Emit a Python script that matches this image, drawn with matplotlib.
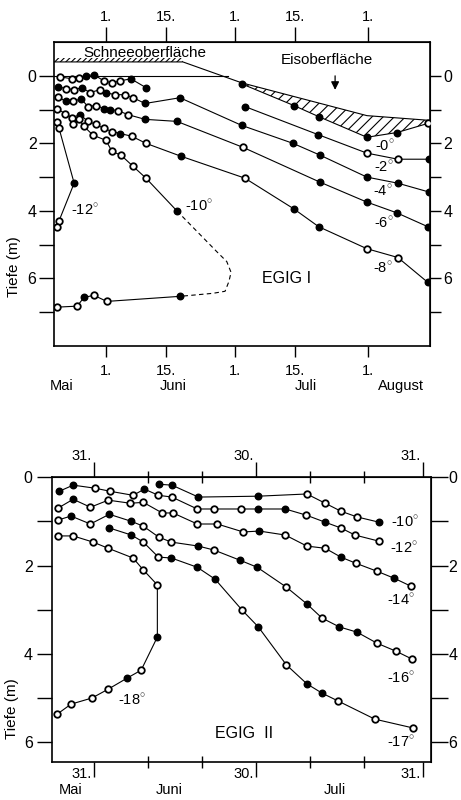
import numpy as np
import matplotlib
matplotlib.use('Agg')
import matplotlib.pyplot as plt
import matplotlib.transforms as mtransforms

plt.rcParams['font.family'] = ['Liberation Sans', 'DejaVu Sans']
plt.rcParams['mathtext.fontset'] = 'custom'
plt.rcParams['mathtext.rm'] = 'Liberation Sans'
plt.rcParams['hatch.linewidth'] = 0.8

# ================= EGIG I (x: days after 1 June, y: depth in m) =================
top_xticks = [0, 14, 30, 44, 61]
top_xticklabels = ["1.", "15.", "1.", "15.", "1."]
top_months = ["Mai", "Juni", "Juli", "August"]
top_month_pos = [-10.4, 15.6, 46.5, 68.6]

# near-surface row (no label)
r1_day = [-10.7, -7.9, -6.3, -4.7, -2.8, -0.5, 1.4, 3.3, 5.8, 9.3]
r1_dep = [0.03, 0.09, 0.06, 0.0, -0.03, 0.15, 0.21, 0.15, 0.09, 0.35]
r1_fill = "OOOFFOOOFF"

t0_day = [31.6, 43.7, 49.5, 60.7, 67.7, 74.9]
t0_dep = [0.24, 0.88, 1.21, 1.82, 1.68, 1.41]
t0_fill = "FFFFFO"

t2_day = [32.3, 49.3, 60.7, 67.9, 75.1]
t2_dep = [0.91, 1.74, 2.29, 2.47, 2.47]
t2_fill = "FFOOF"

t4_day = [-11.2, -9.3, -7.4, -5.6, -3.7, -1.4, 0.0, 2.1, 4.4, 6.3, 9.1, 17.2, 31.6, 43.5, 49.8, 60.7, 67.9, 75.1]
t4_dep = [0.32, 0.38, 0.41, 0.35, 0.50, 0.41, 0.50, 0.56, 0.56, 0.65, 0.82, 0.65, 1.47, 2.00, 2.35, 3.00, 3.18, 3.44]
t4_fill = "FOOFOOFOOOFFFFFFFF"

t6_day = [-11.2, -9.3, -7.7, -5.8, -4.2, -2.3, -0.5, 0.9, 2.8, 5.1, 9.1, 16.5, 31.9, 49.8, 60.7, 67.7, 74.9]
t6_dep = [0.62, 0.76, 0.76, 0.68, 0.91, 0.88, 0.97, 1.00, 1.03, 1.15, 1.29, 1.35, 2.12, 3.15, 3.74, 4.06, 4.47]
t6_fill = "OFOFOOFFOOFFOFFFF"

t8_day = [-11.4, -9.5, -7.9, -6.0, -4.2, -2.3, -0.5, 1.4, 3.3, 6.0, 9.3, 17.4, 32.3, 43.7, 49.5, 60.7, 67.9, 74.9]
t8_dep = [0.97, 1.12, 1.24, 1.15, 1.35, 1.44, 1.56, 1.65, 1.71, 1.79, 2.00, 2.38, 3.03, 3.94, 4.47, 5.12, 5.38, 6.12]
t8_fill = "OOOFOOOOFOOFOFFOOF"

t10u_day = [-7.7, -6.3, -5.1, -3.0, 0.0, 1.4, 3.5, 6.3, 9.3, 16.5]
t10u_dep = [1.44, 1.29, 1.50, 1.76, 1.91, 2.24, 2.35, 2.68, 3.03, 4.00]
t10u_fill = "OOOOOOOOOF"
t10d_day = [25.8, 28.1, 29.1, 28.6, 27.7, 24.9]
t10d_dep = [5.21, 5.50, 5.82, 6.09, 6.38, 6.44]
t10l_day = [17.2, 0.2, -2.8, -5.1, -6.7, -11.4]
t10l_dep = [6.53, 6.68, 6.50, 6.56, 6.82, 6.85]
t10l_fill = "FOOFOO"

t12_day = [-11.4, -10.9, -7.4, -10.9, -11.4]
t12_dep = [1.38, 1.56, 3.18, 4.29, 4.47]
t12_fill = "OOFOO"

snow_day = [-12.1, 17.9, 31.6, 60.7, 75.3]
snow_dep = [-0.41, -0.41, 0.21, 1.18, 1.32]
ice0_day = [-12.1, 28.5]
ice0_dep = [0.0, 0.0]

top_labels = ["-0", "-2", "-4", "-6", "-8", "-10", "-12"]
top_label_day = [64.9, 64.7, 64.4, 64.7, 64.4, 21.6, -4.9]
top_label_dep = [2.10, 2.70, 3.41, 4.38, 5.70, 3.88, 4.00]

# ================= EGIG II (x: days after 1 June, y: depth in m) =================
bot_major = [-1, 29, 60]
bot_major_labels = ["31.", "30.", "31."]
bot_minor = [9, 19, 39, 49]
bot_months = ["Mai", "Juni", "Juli"]
bot_month_pos = [-5.3, 12.9, 43.6]

b10_day = [11.0, 13.4, 18.3, 29.4, 38.4, 41.8, 44.7, 47.7, 51.8]
b10_dep = [0.16, 0.18, 0.45, 0.43, 0.38, 0.59, 0.77, 0.90, 1.02]
b10_fill = "FFFFOOOOF"

b12_day = [-7.5, -4.9, -0.8, 2.0, 6.2, 8.3, 10.9, 13.4, 18.1, 21.2, 26.2, 29.4, 34.4, 38.3, 41.8, 44.7, 47.3, 51.8]
b12_dep = [0.32, 0.18, 0.25, 0.32, 0.41, 0.27, 0.41, 0.45, 0.72, 0.72, 0.72, 0.72, 0.72, 0.86, 1.02, 1.15, 1.31, 1.45]
b12_fill = "FFOOOFOOOOOFFOFOOO"

b14_day = [-7.7, -4.9, -1.7, 1.6, 5.7, 8.1, 11.6, 13.6, 18.1, 21.8, 26.6, 29.6, 34.4, 38.4, 41.8, 44.7, 47.5, 51.4, 54.6, 57.7]
b14_dep = [0.70, 0.50, 0.68, 0.52, 0.59, 0.57, 0.81, 0.81, 1.06, 1.06, 1.24, 1.22, 1.31, 1.56, 1.61, 1.81, 1.95, 2.13, 2.29, 2.47]
b14_fill = "OFOOOOOOOOOFOOOFOOFO"

b16_day = [-7.7, -5.3, -1.7, 1.8, 5.9, 8.1, 11.0, 13.3, 18.3, 21.2, 26.0, 29.2, 34.6, 38.4, 41.2, 44.4, 47.7, 51.4, 54.9, 57.9]
b16_dep = [0.97, 0.88, 1.06, 0.84, 1.00, 1.11, 1.36, 1.47, 1.56, 1.65, 1.88, 2.04, 2.49, 2.87, 3.19, 3.39, 3.51, 3.76, 3.94, 4.12]
b16_fill = "OFOFFOOOFOFFOFOFFOOO"

b17_day = [1.8, 5.9, 8.1, 10.9, 13.3, 18.1, 21.4, 26.4, 29.4, 34.6, 38.4, 41.2, 44.2, 51.0, 58.1]
b17_dep = [1.15, 1.31, 1.47, 1.81, 1.83, 2.04, 2.31, 3.01, 3.39, 4.25, 4.68, 4.89, 5.07, 5.48, 5.68]
b17_fill = "FFOOFFFOFOFFOOO"

b18_day = [-7.7, -4.9, -1.2, 1.6, 6.2, 8.1, 10.7, 10.7, 7.7, 5.1, 1.6, -1.4, -5.3, -7.9]
b18_dep = [1.33, 1.33, 1.47, 1.61, 1.83, 2.10, 2.44, 3.62, 4.37, 4.55, 4.80, 5.00, 5.14, 5.37]
b18_fill = "OOOOOOOFOFOOOO"

bot_labels = ["-10", "-12", "-14", "-16", "-17", "-18"]
bot_label_day = [56.6, 56.4, 55.9, 55.9, 55.9, 5.9]
bot_label_dep = [1.02, 1.61, 2.78, 4.55, 6.00, 5.05]

FS = 10.5
MS = 4.7
LW = 0.8


def curve(ax, x, y, flags, ls='-'):
    x = np.asarray(x, float)
    y = np.asarray(y, float)
    f = np.array([c == 'F' for c in flags])
    ax.plot(x, y, color='k', lw=LW, ls=ls, zorder=2)
    ax.plot(x[f], y[f], 'o', ms=MS, mfc='k', mec='k', mew=1.0, zorder=3)
    ax.plot(x[~f], y[~f], 'o', ms=MS, mfc='white', mec='k', mew=1.3, zorder=3)


def deg(s):
    return s + r"$^{\circ}$"


fig = plt.figure(figsize=(4.61, 8.0), dpi=100)

# ---------------- top panel ----------------
ax1 = fig.add_axes([0.117, 0.5675, 0.816, 0.38])
ax1.set_xlim(-12.1, 75.4)
ax1.set_ylim(8, -1)

for x, y, fl in [(r1_day, r1_dep, r1_fill), (t0_day, t0_dep, t0_fill), (t2_day, t2_dep, t2_fill),
                 (t4_day, t4_dep, t4_fill), (t6_day, t6_dep, t6_fill), (t8_day, t8_dep, t8_fill),
                 (t10u_day, t10u_dep, t10u_fill), (t10l_day, t10l_dep, t10l_fill),
                 (t12_day, t12_dep, t12_fill)]:
    curve(ax1, x, y, fl)
# dashed extrapolation of -10 isotherm
ax1.plot([t10u_day[-1]] + t10d_day + [t10l_day[0]], [t10u_dep[-1]] + t10d_dep + [t10l_dep[0]],
         color='k', lw=LW, ls=(0, (4, 3)), zorder=2)

# surfaces
ax1.plot(ice0_day, ice0_dep, color='k', lw=LW)
ax1.plot(snow_day, snow_dep, color='k', lw=LW)
ax1.fill_between([snow_day[0], snow_day[1]], -0.54, snow_dep[0], hatch='//////',
                 facecolor='none', edgecolor='k', linewidth=0)
xg = np.linspace(snow_day[2], snow_day[-1], 300)
ax1.fill_between(xg, np.interp(xg, snow_day, snow_dep), np.interp(xg, t0_day, t0_dep),
                 hatch='///', facecolor='none', edgecolor='k', linewidth=0)

ax1.text(9.0, -0.68, "Schneeoberfläche", fontsize=FS + 0.5, ha='center', va='center')
ax1.text(51.4, -0.47, "Eisoberfläche", fontsize=FS + 0.5, ha='center', va='center')
ax1.annotate("", xy=(53.3, 0.5), xytext=(53.3, -0.08),
             arrowprops=dict(arrowstyle='-|>', color='k', lw=0.9, mutation_scale=12))
ax1.text(42.1, 6.0, "EGIG I", fontsize=FS + 1, ha='center', va='center')
for t, x, y in zip(top_labels, top_label_day, top_label_dep):
    ax1.text(x, y, deg(t), fontsize=FS, ha='center', va='center')

ax1.set_xticks(top_xticks)
ax1.set_xticklabels(top_xticklabels, fontsize=FS)
ax1.tick_params(axis='x', direction='out', length=8, width=1.0, pad=5)
sx1 = ax1.secondary_xaxis('top')
sx1.set_xticks(top_xticks)
sx1.set_xticklabels(top_xticklabels, fontsize=FS)
sx1.tick_params(axis='x', direction='out', length=11, width=1.0, pad=2)

ax1.set_yticks([0, 2, 4, 6])
ax1.set_yticklabels(["0", "2", "4", "6"], fontsize=FS + 1)
ax1.set_yticks([1, 3, 5, 7], minor=True)
ax1.tick_params(axis='y', which='both', direction='out', length=11, width=1.0, pad=1.5)
sy1 = ax1.secondary_yaxis('right')
sy1.set_yticks([0, 2, 4, 6])
sy1.set_yticklabels(["0", "2", "4", "6"], fontsize=FS + 1)
sy1.set_yticks([1, 3, 5, 7], minor=True)
sy1.tick_params(axis='y', which='both', direction='out', length=8, width=1.0, pad=1.5)

ax1.set_ylabel("Tiefe (m)", fontsize=FS + 0.5)
ax1.yaxis.set_label_coords(-0.088, 0.26)
for m, x in zip(top_months, top_month_pos):
    ax1.text(x, -0.13, m, fontsize=FS, ha='center', va='center',
             transform=mtransforms.blended_transform_factory(ax1.transData, ax1.transAxes))
for s in ax1.spines.values():
    s.set_linewidth(1.2)

# ---------------- bottom panel ----------------
ax2 = fig.add_axes([0.113, 0.0475, 0.822, 0.356])
ax2.set_xlim(-8.8, 61.4)
ax2.set_ylim(6.45, 0)

for x, y, fl in [(b10_day, b10_dep, b10_fill), (b12_day, b12_dep, b12_fill), (b14_day, b14_dep, b14_fill),
                 (b16_day, b16_dep, b16_fill), (b17_day, b17_dep, b17_fill), (b18_day, b18_dep, b18_fill)]:
    curve(ax2, x, y, fl)
for t, x, y in zip(bot_labels, bot_label_day, bot_label_dep):
    ax2.text(x, y, deg(t), fontsize=FS, ha='center', va='center')
ax2.text(26.8, 5.8, "EGIG  II", fontsize=FS + 1, ha='center', va='center')

ax2.set_xticks(bot_major)
ax2.set_xticklabels([])
ax2.set_xticks(bot_minor, minor=True)
ax2.tick_params(axis='x', which='major', direction='out', length=11, width=1.0)
ax2.tick_params(axis='x', which='minor', direction='inout', length=9, width=1.0)
sx2 = ax2.secondary_xaxis('top')
sx2.set_xticks(bot_major)
sx2.set_xticklabels([])
sx2.set_xticks(bot_minor, minor=True)
sx2.tick_params(axis='x', which='major', direction='out', length=11, width=1.0)
sx2.tick_params(axis='x', which='minor', direction='inout', length=9, width=1.0)

blend2 = mtransforms.blended_transform_factory(ax2.transData, ax2.transAxes)
off = mtransforms.ScaledTranslation(-2 / 72, 0, fig.dpi_scale_trans)
for d, lab in zip(bot_major, bot_major_labels):
    ax2.text(d, -0.018, lab, fontsize=FS, ha='right', va='top', transform=blend2 + off)
    ax2.text(d, 1.05, lab, fontsize=FS, ha='right', va='bottom', transform=blend2 + off)
for m, x in zip(bot_months, bot_month_pos):
    ax2.text(x, -0.098, m, fontsize=FS, ha='center', va='center', transform=blend2)

ax2.set_yticks([0, 2, 4, 6])
ax2.set_yticklabels(["0", "2", "4", "6"], fontsize=FS + 1)
ax2.set_yticks([1, 3, 5], minor=True)
ax2.tick_params(axis='y', which='both', direction='out', length=11, width=1.0, pad=3)
sy2 = ax2.secondary_yaxis('right')
sy2.set_yticks([0, 2, 4, 6])
sy2.set_yticklabels(["0", "2", "4", "6"], fontsize=FS + 1)
sy2.set_yticks([1, 3, 5], minor=True)
sy2.tick_params(axis='y', which='both', direction='out', length=12, width=1.0, pad=0.5)

ax2.set_ylabel("Tiefe (m)", fontsize=FS + 0.5)
ax2.yaxis.set_label_coords(-0.088, 0.186)
for s in ax2.spines.values():
    s.set_linewidth(1.2)

fig.savefig("out.png", dpi=100)
